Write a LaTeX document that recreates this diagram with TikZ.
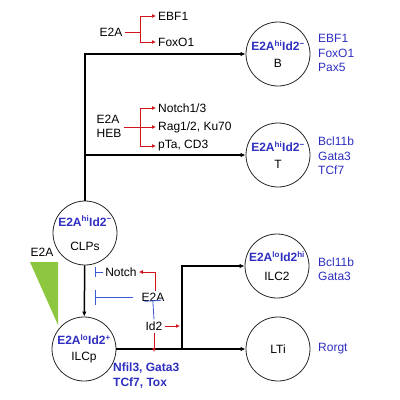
\documentclass[tikz,border=0pt]{standalone}
\usepackage{fontspec}
\setmainfont{Liberation Sans}
\usepackage{tikz}
\usetikzlibrary{arrows.meta}
\usetikzlibrary{calc}
\definecolor{tfblue}{HTML}{2E2EC0}
\definecolor{barblue}{HTML}{3A5CD0}
\definecolor{actred}{HTML}{D0161C}
\definecolor{trigreen}{HTML}{8DC63F}

\tikzset{
  cell/.style={draw=black!85,line width=0.8pt,circle,minimum size=64pt,inner sep=0pt,
    align=center,font=\fontsize{12}{16}\selectfont},
  gene/.style={font=\fontsize{12}{14}\selectfont,inner sep=2pt},
  tf/.style={font=\fontsize{12}{14.5}\selectfont,text=tfblue,align=left,anchor=west,inner sep=0pt},
  flow/.style={line width=1.5pt,-{Latex[length=5pt,width=4.5pt]}},
  act/.style={actred,line width=0.8pt},
  inh/.style={barblue,line width=0.8pt}
}
\newcommand{\hilabel}[2]{\textcolor{tfblue}{\bfseries E2A\textsuperscript{#1}Id2\textsuperscript{#2}}}

\begin{document}
\begin{tikzpicture}[x=1pt,y=-1pt]
\useasboundingbox (0,0) rectangle (400,400);
%% cells
\node[cell] (B) at (278,54) {\hilabel{hi}{−}\\[1pt] B};
\node[cell] (T) at (278,155) {\hilabel{hi}{−}\\[1pt] T};
\node[cell] (CLP) at (85,233) {\hilabel{hi}{−}\\[8pt] CLPs};
\node[cell] (ILCp) at (84,349) {\hilabel{lo}{+}\\[0pt] ILCp};
\node[cell] (ILC2) at (277,266) {\hilabel{lo}{hi}\\[3pt] ILC2};
\node[cell] (LTi) at (278,349) {LTi};
%% lineages
\draw[flow] (CLP.north) |- (B.west);
\draw[flow] (T.west -| CLP.north) -- (T.west);
\draw[flow] (CLP) -- (ILCp);
\draw[flow] (ILCp) -- (LTi);
\coordinate (fork) at (182,349);
\draw[flow] (fork) |- (ILC2.west);
%% factors on the right
\node[tf] (fB) at (318,53) {EBF1\\FoxO1\\Pax5};
\node[tf] (fT) at (318,156) {Bcl11b\\Gata3\\TCf7};
\node[tf] (fILC2) at (318,269) {Bcl11b\\Gata3};
\node[tf] (fLTi) at (318,349) {Rorgt};
\node[tf,anchor=north west,font=\fontsize{12}{14.5}\selectfont\bfseries] (fILCp) at (113,363) {Nfil3, Gata3\\TCf7, Tox};
%% B branch
\node[gene] (e2aB) at (111,32) {E2A};
\node[gene,anchor=west] (ebf) at (156,16) {EBF1};
\node[gene,anchor=west] (foxo) at (156,42) {FoxO1};
\coordinate (splitB) at (140,32);
\draw[act] (e2aB.east) -- (splitB);
\draw[act,-{Latex[length=4pt,width=4pt]}] (splitB) |- (ebf.west);
\draw[act,-{Latex[length=4pt,width=4pt]}] (splitB) |- (foxo.west);
%% T branch
\node[gene,align=left,font=\fontsize{12}{14}\selectfont] (e2aT) at (109,126) {E2A\\HEB};
\node[gene,anchor=west] (notch13) at (156,108) {Notch1/3};
\node[gene,anchor=west] (rag) at (156,127) {Rag1/2, Ku70};
\node[gene,anchor=west] (pta) at (156,146) {pTa, CD3};
\coordinate (splitT) at (140,127);
\draw[act,-{Latex[length=4pt,width=4pt]}] (e2aT.east |- rag.west) -- (rag.west);
\draw[act,-{Latex[length=4pt,width=4pt]}] (splitT) |- (notch13.west);
\draw[act,-{Latex[length=4pt,width=4pt]}] (splitT) |- (pta.west);
%% ILC branch
\node[gene] (notch) at (121,272) {Notch};
\node[gene] (e2aI) at (153,297) {E2A};
\node[gene] (id2) at (154,326) {Id2};
\draw[act,-{Latex[length=4pt,width=4pt]}] ([xshift=2pt]e2aI.north) |- (notch.east);
\draw[inh,-{Bar[width=10pt]}] (notch.west) -- (95,272);
\draw[inh,-{Bar[width=15pt]},shorten <=6pt] (e2aI.west) -- (95,297);
\draw[inh,-{Bar[width=17pt]},shorten >=-3pt] (id2.north) -- (e2aI.south);
\draw[act,-{Latex[length=4pt,width=4pt]}] (id2.east) -- ([xshift=-2pt]fork |- id2.east);
\draw[act,-{Latex[length=4pt,width=4pt]}] (id2.south) -- ([yshift=-3pt]id2.south |- fork);
%% E2A gradient
\fill[trigreen] (30,262) -- (58,262) -- (58,325) -- cycle;
\node[gene] (e2aG) at (42,252) {E2A};
\end{tikzpicture}
\end{document}
